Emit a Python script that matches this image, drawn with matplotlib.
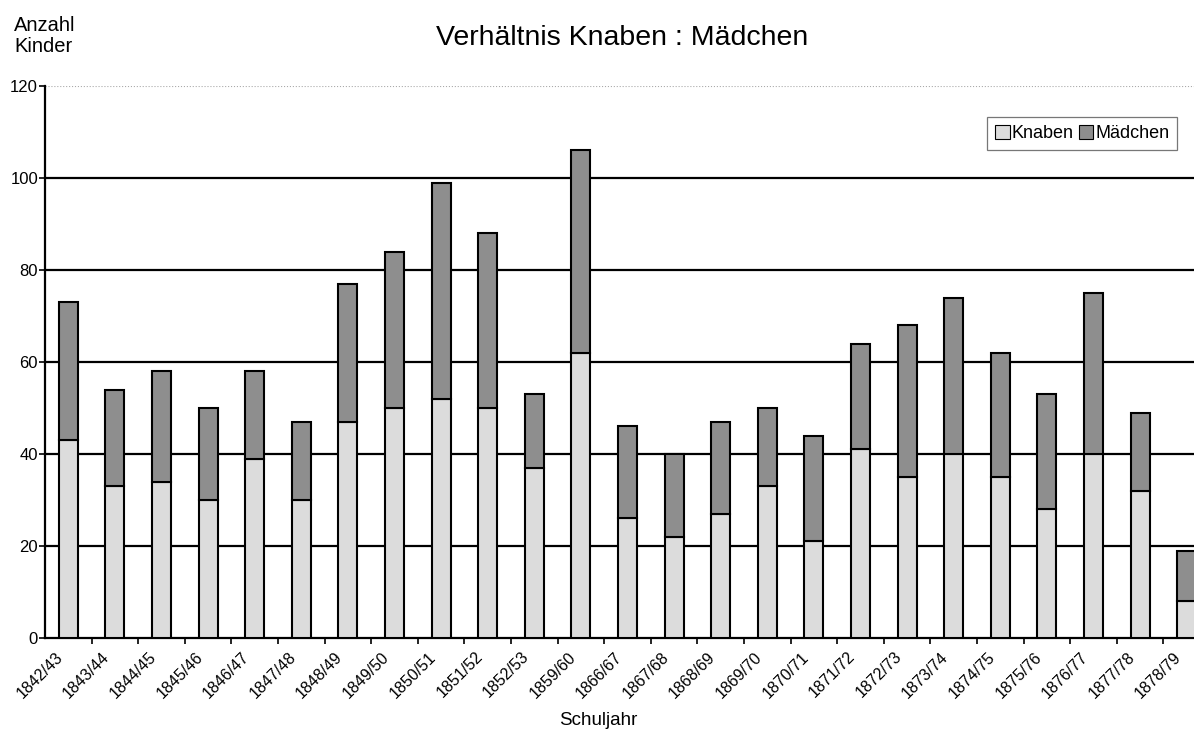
import numpy as np
import matplotlib.pyplot as plt
from matplotlib.transforms import ScaledTranslation

plt.rcParams['font.family'] = ['Liberation Sans', 'DejaVu Sans']

# Schuljahre und Kinderzahlen
jahre = ['1842/43', '1843/44', '1844/45', '1845/46', '1846/47', '1847/48', '1848/49',
         '1849/50', '1850/51', '1851/52', '1852/53', '1859/60', '1866/67', '1867/68',
         '1868/69', '1869/70', '1870/71', '1871/72', '1872/73', '1873/74', '1874/75',
         '1875/76', '1876/77', '1877/78', '1878/79']
knaben = [43, 33, 34, 30, 39, 30, 47, 50, 52, 50, 37, 62, 26, 22, 27, 33, 21, 41, 35, 40, 35, 28, 40, 32, 8]
maedchen = [30, 21, 24, 20, 19, 17, 30, 34, 47, 38, 16, 44, 20, 18, 20, 17, 23, 23, 33, 34, 27, 25, 35, 17, 11]

fig = plt.figure(figsize=(11.94, 7.31), dpi=100)
ax = fig.add_axes([0.0377, 0.1272, 0.9757, 0.7552])

x = np.arange(len(jahre))
w = 0.41
ax.bar(x, knaben, w, color='#dcdcdc', edgecolor='black', linewidth=1.5, label='Knaben', zorder=3)
ax.bar(x, maedchen, w, bottom=knaben, color='#8e8e8e', edgecolor='black', linewidth=1.5,
       label='Mädchen', zorder=3)

ax.set_xlim(-0.5, len(jahre) - 0.5)
ax.set_ylim(0, 120)
ax.set_yticks(np.arange(0, 121, 20))
for yv in range(20, 101, 20):
    ax.axhline(yv, color='black', lw=1.6, zorder=1)
ax.axhline(120, color='#aaaaaa', lw=0.8, ls=':', zorder=1)

for s in ['top', 'right']:
    ax.spines[s].set_visible(False)
ax.spines['left'].set_linewidth(1.6)
ax.spines['bottom'].set_linewidth(1.6)

# ticks between categories, labels under bars
ax.set_xticks(x + 0.5, minor=False)
ax.set_xticklabels([])
ax.set_xticks(x, minor=True)
ax.set_xticklabels(jahre, minor=True, rotation=45, ha='right', rotation_mode='anchor', fontsize=11.5)
ax.tick_params(axis='x', which='minor', length=0, pad=8)
ax.tick_params(axis='x', which='major', length=4, width=1.2, direction='out')
ax.tick_params(axis='y', length=4, width=1.2, labelsize=12, pad=1)
shift = ScaledTranslation(-0.13, 0, fig.dpi_scale_trans)
for lab in ax.get_xticklabels(minor=True):
    lab.set_transform(lab.get_transform() + shift)

fig.text(0.521, 0.948, 'Verhältnis Knaben : Mädchen', ha='center', va='center', fontsize=20.5)
fig.text(0.012, 0.978, 'Anzahl\nKinder', ha='left', va='top', fontsize=14.5, linespacing=1.15)
fig.text(0.501, 0.015, 'Schuljahr', ha='center', va='center', fontsize=13.5)

leg = ax.legend(loc='upper right', bbox_to_anchor=(0.986, 0.840), bbox_transform=fig.transFigure,
                ncol=2, fontsize=13, frameon=True, fancybox=False, handlelength=0.8,
                handleheight=0.8, handletextpad=0.1, columnspacing=0.3, borderpad=0.45,
                borderaxespad=0)
leg.get_frame().set_edgecolor('#555555')
leg.get_frame().set_linewidth(0.9)
for h in leg.legend_handles:
    h.set_linewidth(0.8)

fig.savefig('out.png', dpi=100)
